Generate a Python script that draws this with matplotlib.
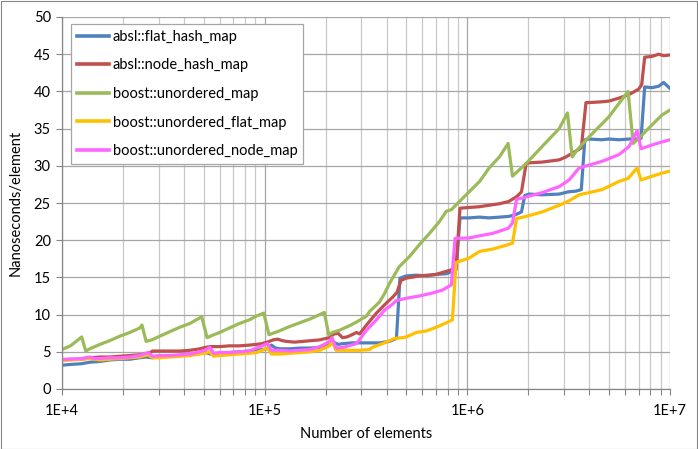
import matplotlib
matplotlib.use("Agg")
import matplotlib.pyplot as plt
from matplotlib.ticker import LogLocator, FixedLocator, FuncFormatter, NullFormatter
from matplotlib.patches import Rectangle

plt.rcParams['font.family'] = ['Lato', 'DejaVu Sans']

# ---- data ----
flat_n = [1.0e4, 1.1e4, 1.25e4, 1.37e4, 1.54e4, 1.72e4, 1.93e4, 2.16e4, 2.42e4, 2.6e4, 2.77e4, 3.04e4,
          3.4e4, 3.81e4, 4.27e4, 4.78e4, 5.1e4, 5.4e4, 6.0e4, 6.7e4, 7.5e4, 8.4e4, 9.1e4, 9.7e4,
          1.03e5, 1.08e5, 1.13e5, 1.2e5, 1.33e5, 1.49e5, 1.67e5, 1.87e5, 2.02e5, 2.16e5, 2.3e5, 2.45e5,
          2.7e5, 2.94e5, 3.3e5, 3.69e5, 4.13e5, 4.47e5, 4.65e5, 5.0e5, 5.6e5, 6.3e5, 7.0e5, 7.9e5,
          8.4e5, 8.8e5, 9.2e5, 1.02e6, 1.15e6, 1.28e6, 1.44e6, 1.6e6, 1.72e6, 1.85e6, 1.92e6, 2.02e6,
          2.34e6, 2.84e6, 3.15e6, 3.44e6, 3.65e6, 3.8e6, 4.0e6, 4.6e6, 5.0e6, 5.6e6, 6.3e6, 6.9e6,
          7.2e6, 7.5e6, 8.15e6, 8.8e6, 9.3e6, 1.0e7]
flat_v = [3.2, 3.3, 3.4, 3.6, 3.7, 3.9, 4.0, 4.0, 4.2, 4.3, 4.2, 4.3,
          4.4, 4.5, 4.6, 4.8, 4.9, 4.7, 4.8, 4.9, 5.0, 5.1, 5.2, 5.3,
          5.4, 5.9, 5.5, 5.4, 5.4, 5.5, 5.5, 5.6, 5.8, 6.4, 6.0, 6.1,
          6.2, 6.2, 6.2, 6.2, 6.4, 6.8, 14.9, 15.2, 15.3, 15.2, 15.4, 15.5,
          15.8, 16.0, 23.0, 23.0, 23.1, 23.0, 23.1, 23.2, 23.4, 23.8, 26.0, 26.2,
          26.1, 26.2, 26.5, 26.6, 26.8, 33.5, 33.6, 33.5, 33.6, 33.5, 33.6, 33.6,
          33.7, 40.6, 40.5, 40.7, 41.2, 40.4]

node_n = [1.0e4, 1.1e4, 1.25e4, 1.37e4, 1.54e4, 1.72e4, 1.93e4, 2.16e4, 2.42e4, 2.65e4, 2.8e4, 3.04e4,
          3.4e4, 3.81e4, 4.27e4, 4.78e4, 5.1e4, 5.4e4, 6.0e4, 6.7e4, 7.5e4, 8.4e4, 9.1e4, 9.7e4,
          1.03e5, 1.1e5, 1.16e5, 1.22e5, 1.28e5, 1.4e5, 1.55e5, 1.7e5, 1.87e5, 1.93e5, 2.09e5, 2.2e5,
          2.3e5, 2.42e5, 2.55e5, 2.7e5, 2.84e5, 2.94e5, 3.18e5, 3.56e5, 3.9e5, 4.3e5, 4.5e5, 4.7e5,
          5.0e5, 5.8e5, 7.0e5, 8.3e5, 8.8e5, 9.2e5, 1.02e6, 1.15e6, 1.28e6, 1.44e6, 1.6e6, 1.76e6,
          1.85e6, 1.95e6, 2.02e6, 2.34e6, 2.84e6, 3.07e6, 3.44e6, 3.65e6, 3.85e6, 4.0e6, 4.6e6, 5.0e6,
          5.6e6, 6.3e6, 7.0e6, 7.25e6, 7.5e6, 8.15e6, 8.8e6, 9.3e6, 1.0e7]
node_v = [3.9, 4.0, 4.0, 4.2, 4.3, 4.3, 4.4, 4.5, 4.6, 4.7, 5.1, 5.1,
          5.1, 5.1, 5.2, 5.4, 5.6, 5.7, 5.7, 5.8, 5.8, 5.9, 6.0, 6.1,
          6.3, 6.6, 6.7, 6.5, 6.4, 6.3, 6.4, 6.5, 6.6, 6.7, 6.9, 7.4,
          7.5, 6.9, 7.0, 7.3, 7.6, 7.4, 8.6, 10.2, 11.3, 12.4, 13.0, 14.6,
          14.9, 15.2, 15.4, 16.0, 16.3, 24.3, 24.4, 24.5, 24.7, 24.9, 25.2, 25.9,
          26.5, 30.3, 30.4, 30.5, 30.8, 31.2, 32.0, 32.4, 38.5, 38.5, 38.6, 38.7,
          39.1, 39.6, 40.3, 40.9, 44.6, 44.7, 45.0, 44.8, 44.9]

umap_n = [1.0e4, 1.1e4, 1.2e4, 1.25e4, 1.31e4, 1.37e4, 1.54e4, 1.72e4, 1.93e4, 2.16e4, 2.42e4, 2.48e4,
          2.6e4, 2.77e4, 3.04e4, 3.4e4, 3.81e4, 4.27e4, 4.6e4, 4.89e4, 5.2e4, 5.5e4, 6.0e4, 6.7e4,
          7.5e4, 8.4e4, 9.1e4, 9.9e4, 1.05e5, 1.1e5, 1.18e5, 1.3e5, 1.49e5, 1.67e5, 1.87e5, 1.97e5,
          2.07e5, 2.16e5, 2.34e5, 2.62e5, 2.84e5, 3.18e5, 3.29e5, 3.69e5, 3.9e5, 4.13e5, 4.47e5, 4.6e5,
          5.18e5, 5.8e5, 6.5e5, 7.28e5, 7.88e5, 8.34e5, 9.14e5, 1.02e6, 1.15e6, 1.28e6, 1.44e6, 1.59e6,
          1.67e6, 1.76e6, 1.95e6, 2.34e6, 2.84e6, 3.12e6, 3.29e6, 3.5e6, 3.99e6, 5.0e6, 6.21e6, 6.58e6,
          7.2e6, 8.15e6, 9.1e6, 1.0e7]
umap_v = [5.3, 5.8, 6.6, 7.0, 5.1, 5.4, 6.0, 6.5, 7.1, 7.6, 8.2, 8.6,
          6.4, 6.6, 7.1, 7.7, 8.3, 8.8, 9.3, 9.7, 6.9, 7.2, 7.6, 8.2,
          8.8, 9.3, 9.8, 10.2, 7.3, 7.5, 7.8, 8.3, 8.9, 9.4, 10.0, 10.3,
          7.3, 7.6, 7.9, 8.5, 9.0, 9.8, 10.4, 11.7, 12.8, 14.2, 15.8, 16.4,
          17.8, 19.4, 20.9, 22.5, 23.9, 24.1, 25.2, 26.5, 27.9, 29.7, 31.2, 33.0,
          28.6, 29.2, 30.3, 32.6, 35.0, 37.1, 31.2, 32.2, 33.9, 36.6, 40.0, 33.0,
          34.0, 35.5, 36.8, 37.5]

bflat_n = [1.0e4, 1.1e4, 1.25e4, 1.37e4, 1.45e4, 1.54e4, 1.72e4, 1.93e4, 2.16e4, 2.42e4, 2.65e4, 2.8e4,
           3.04e4, 3.4e4, 3.81e4, 4.27e4, 4.78e4, 5.06e4, 5.36e4, 5.6e4, 6.0e4, 6.7e4, 7.5e4, 8.4e4,
           9.1e4, 9.7e4, 1.035e5, 1.08e5, 1.2e5, 1.33e5, 1.49e5, 1.67e5, 1.87e5, 1.97e5, 2.09e5, 2.15e5,
           2.25e5, 2.62e5, 2.94e5, 3.29e5, 3.4e5, 3.9e5, 4.37e5, 4.78e5, 5.0e5, 5.6e5, 6.28e5, 7.03e5,
           7.88e5, 8.44e5, 8.8e5, 1.02e6, 1.15e6, 1.33e6, 1.59e6, 1.67e6, 1.75e6, 1.95e6, 2.34e6, 2.84e6,
           3.18e6, 3.56e6, 3.99e6, 4.62e6, 5.6e6, 6.21e6, 6.88e6, 7.2e6, 8.15e6, 9.1e6, 1.0e7]
bflat_v = [3.8, 3.9, 4.0, 4.1, 4.0, 3.9, 4.0, 4.1, 4.2, 4.3, 4.6, 4.2,
           4.2, 4.3, 4.4, 4.5, 4.7, 4.8, 5.0, 4.4, 4.5, 4.6, 4.7, 4.8,
           4.9, 5.2, 5.5, 4.7, 4.7, 4.8, 4.9, 5.0, 5.2, 5.5, 5.8, 6.4,
           5.2, 5.2, 5.2, 5.3, 5.6, 6.2, 6.8, 6.9, 7.0, 7.6, 7.8, 8.3,
           8.9, 9.3, 17.0, 17.6, 18.5, 18.8, 19.4, 19.6, 22.9, 23.2, 23.8, 24.7,
           25.3, 26.1, 26.4, 26.8, 27.9, 28.3, 29.7, 28.1, 28.6, 29.0, 29.3]

bnode_n = [1.0e4, 1.1e4, 1.25e4, 1.37e4, 1.45e4, 1.54e4, 1.72e4, 1.93e4, 2.16e4, 2.42e4, 2.65e4, 2.8e4,
           3.04e4, 3.4e4, 3.81e4, 4.27e4, 4.78e4, 5.06e4, 5.36e4, 5.6e4, 6.0e4, 6.7e4, 7.5e4, 8.4e4,
           9.1e4, 9.7e4, 1.035e5, 1.08e5, 1.2e5, 1.33e5, 1.49e5, 1.67e5, 1.87e5, 1.97e5, 2.09e5, 2.15e5,
           2.25e5, 2.45e5, 2.84e5, 3.18e5, 3.56e5, 3.9e5, 4.23e5, 4.47e5, 5.0e5, 5.8e5, 6.73e5, 7.54e5,
           8.34e5, 8.7e5, 1.02e6, 1.15e6, 1.33e6, 1.59e6, 1.67e6, 1.75e6, 1.95e6, 2.34e6, 2.84e6, 3.18e6,
           3.56e6, 3.99e6, 4.62e6, 5.6e6, 6.28e6, 6.88e6, 7.2e6, 8.15e6, 9.1e6, 1.0e7]
bnode_v = [4.0, 4.0, 4.1, 4.3, 4.1, 4.1, 4.2, 4.2, 4.3, 4.5, 4.9, 4.4,
           4.5, 4.5, 4.6, 4.7, 5.0, 5.2, 5.6, 4.8, 4.9, 4.9, 5.0, 5.1,
           5.5, 5.8, 6.1, 5.2, 5.2, 5.1, 5.2, 5.3, 5.7, 6.0, 6.4, 6.9,
           5.5, 5.6, 6.1, 7.9, 9.3, 10.6, 11.3, 11.9, 12.2, 12.5, 12.9, 13.3,
           14.0, 20.25, 20.3, 20.6, 20.9, 21.6, 22.3, 25.5, 25.8, 26.4, 27.2, 28.1,
           29.7, 30.1, 30.6, 31.5, 32.6, 34.7, 32.3, 32.8, 33.2, 33.5]

series = [
    ("absl::flat_hash_map", flat_n, flat_v, "#4F81BD"),
    ("absl::node_hash_map", node_n, node_v, "#C0504D"),
    ("boost::unordered_map", umap_n, umap_v, "#9BBB59"),
    ("boost::unordered_flat_map", bflat_n, bflat_v, "#FFC000"),
    ("boost::unordered_node_map", bnode_n, bnode_v, "#FF66FF"),
]

x_ticks = [1e4, 1e5, 1e6, 1e7]
x_labels = ["1E+4", "1E+5", "1E+6", "1E+7"]
y_ticks = [0, 5, 10, 15, 20, 25, 30, 35, 40, 45, 50]

# ---- figure ----
W, H = 698, 449
fig = plt.figure(figsize=(W / 100, H / 100), dpi=100)
fig.patch.set_facecolor("white")
fig.add_artist(Rectangle((0.5 / W, 0.5 / H), 1 - 1.5 / W, 1 - 1.5 / H, transform=fig.transFigure,
                         fill=False, edgecolor="#868686", linewidth=0.8))

ax = fig.add_axes([62 / W, 1 - 389 / H, (670 - 62) / W, (389 - 17) / H])
for name, xs, ys, c in series:
    ax.plot(xs, ys, color=c, linewidth=2.3, label=name, solid_joinstyle="round")

ax.set_xscale("log")
ax.set_xlim(1e4, 1e7)
ax.set_ylim(0, 50)
ax.xaxis.set_major_locator(FixedLocator(x_ticks))
ax.xaxis.set_major_formatter(FuncFormatter(lambda v, p: x_labels[x_ticks.index(v)] if v in x_ticks else ""))
ax.xaxis.set_minor_locator(LogLocator(base=10, subs=[2, 3, 4, 5, 6, 7, 8, 9]))
ax.xaxis.set_minor_formatter(NullFormatter())
ax.set_yticks(y_ticks)

ax.grid(True, which="major", color="#A6A6A6", linewidth=0.9)
ax.grid(True, which="minor", axis="x", color="#C8C8C8", linewidth=0.9)
ax.set_axisbelow(True)
for s in ["top", "right"]:
    ax.spines[s].set_visible(False)
for s in ["left", "bottom"]:
    ax.spines[s].set_color("#868686")
    ax.spines[s].set_linewidth(0.9)

ax.tick_params(axis="both", which="both", colors="#868686", labelcolor="black", labelsize=10.5,
               direction="out", length=4, width=0.8)
ax.tick_params(axis="x", which="major", pad=7)
ax.tick_params(axis="y", which="major", pad=4)

ax.set_xlabel("Number of elements", fontsize=10.5, labelpad=6)
ax.set_ylabel("Nanoseconds/element", fontsize=10.5, labelpad=8)

leg = ax.legend(loc="upper left", bbox_to_anchor=(9 / 608, 1 - 7 / 372), fontsize=10.5, frameon=True,
                fancybox=False, edgecolor="#A6A6A6", framealpha=1.0, handlelength=2.2,
                handletextpad=0.25, labelspacing=1.0, borderpad=0.4, borderaxespad=0)
leg.get_frame().set_linewidth(0.9)
for line in leg.get_lines():
    line.set_linewidth(2.6)

fig.savefig("out.png", dpi=100, facecolor="white")
